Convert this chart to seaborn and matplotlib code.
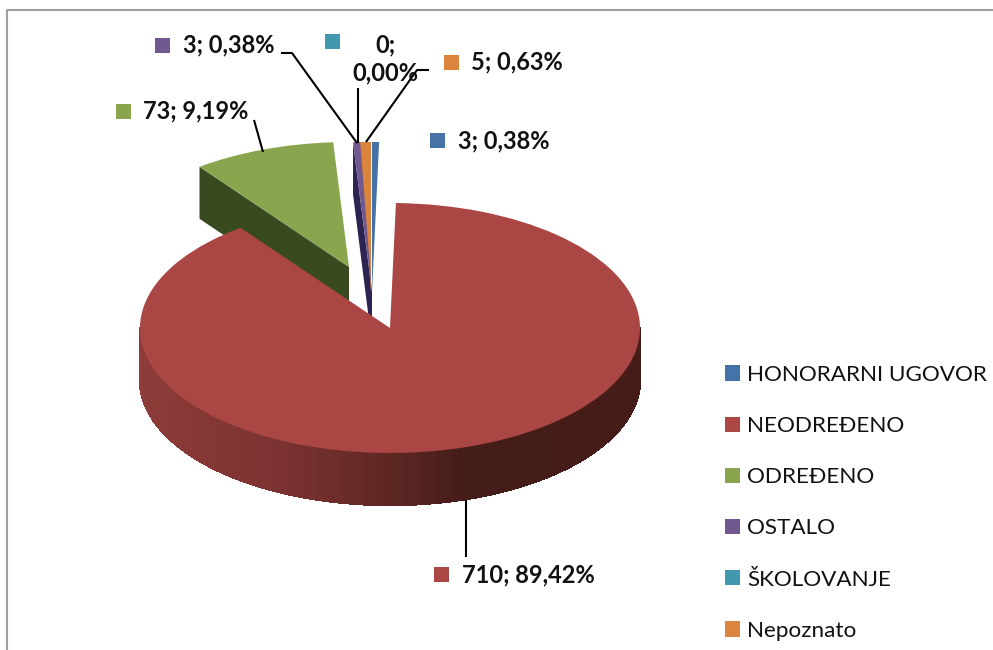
import numpy as np
import matplotlib
matplotlib.use("Agg")
import matplotlib.pyplot as plt
from matplotlib.collections import PolyCollection
from matplotlib.colors import LinearSegmentedColormap
from matplotlib.patches import Polygon
import seaborn as sns

categories = ["HONORARNI UGOVOR", "NEODREĐENO", "ODREĐENO", "OSTALO", "ŠKOLOVANJE", "Nepoznato"]
values = [3, 710, 73, 3, 0, 5]
colors = ["#4572a7", "#aa4643", "#89a54e", "#71588f", "#4198af", "#db843d"]

sns.set_theme(style="white")
plt.rcParams["font.family"] = ["Lato", "DejaVu Sans"]
palette = sns.color_palette(colors)

W, H = 993, 650
CX, CY, RX, RY = 390.0, 328.0, 250.0, 125.0
DEPTH = 52.0 / RY

def to_data(px, py):
    return ((px - CX) / RX, (CY - py) / RY)

fig = plt.figure(figsize=(W / 100, H / 100), dpi=100, facecolor="white")
ax = fig.add_axes([0, 0, 1, 1])
wedges, _ = ax.pie(values, colors=palette, startangle=90, counterclock=False,
                   wedgeprops=dict(linewidth=0))
ax.set_aspect("auto")
ax.set_xlim(-CX / RX, (W - CX) / RX)
ax.set_ylim((CY - H) / RY, CY / RY)
ax.axis("off")

# exploded positions as seen in the picture (px) and radius of each slice
apex_px = [(372, 292), (CX, CY), (349, 267), (372, 292), (371, 292), (371, 292)]
radii = [1.2, 1.0, 1.0, 1.2, 1.2, 1.2]
wall_colors = [None, None, "#3a4a20", "#2d2350", None, None]
for w, a, r in zip(wedges, apex_px, radii):
    w.set_center(to_data(*a))
    w.set_radius(r)
    w.set_zorder(4)
wedges[1].set_zorder(8)
wedges[3].set_zorder(5)

# cut walls of the exploded slices
for w, wc in zip(wedges, wall_colors):
    if wc is None:
        continue
    cx, cy = w.center
    t = np.deg2rad(w.theta2)
    ex, ey = cx + w.r * np.cos(t), cy + w.r * np.sin(t)
    ax.add_patch(Polygon([(cx, cy), (ex, ey), (ex, ey - DEPTH), (cx, cy - DEPTH)],
                         closed=True, facecolor=wc, edgecolor="none", zorder=3))

# rim of the large slice, shaded from left to right
rim_cmap = LinearSegmentedColormap.from_list(
    "rim", [(0.0, "#8e3c39"), (0.3, "#7a3230"), (0.5, "#5e2724"), (0.66, "#441c18"), (1.0, "#451c17")])
th = np.deg2rad(np.linspace(180, 360, 361))
polys, cols = [], []
for a, b in zip(th[:-1], th[1:]):
    x0, y0, x1, y1 = np.cos(a), np.sin(a), np.cos(b), np.sin(b)
    polys.append([(x0, y0), (x1, y1), (x1, y1 - DEPTH), (x0, y0 - DEPTH)])
    cols.append(rim_cmap((np.cos((a + b) / 2) + 1) / 2))
ax.add_collection(PolyCollection(polys, facecolors=cols, edgecolors=cols, linewidths=1.0,
                                 antialiaseds=False, zorder=7))

# overlay in picture coordinates for labels and frame
ov = fig.add_axes([0, 0, 1, 1], facecolor="none")
ov.set_xlim(0, W)
ov.set_ylim(H, 0)
ov.axis("off")

ov.plot([7, 7, W], [H, 10, 10], color="#a0a0a0", lw=1.5, clip_on=False)

total = sum(values)
label_text = [f"{v}; {v / total * 100:.2f}%".replace(".", ",") for v in values]
label_text[4] = label_text[4].replace(" ", "\n")
square_xy = [(436.5, 139.5), (440.5, 573.5), (122.5, 110.5), (161.5, 44.5), (331.5, 40.5), (450.5, 61.5)]
text_xy = [(458, 141), (462, 575), (143, 111), (183, 45), (385.5, 59), (471, 62)]
aligns = ["left", "left", "left", "left", "center", "left"]
leaders = [None,
           [(466, 500), (466, 557)],
           [(254, 120), (263, 152)],
           [(281, 53), (292, 53), (357, 143)],
           [(358, 88), (358, 143)],
           [(429, 70), (417, 70), (366, 142)]]
for i in range(len(values)):
    ov.scatter(*square_xy[i], marker="s", s=(15 * 0.72) ** 2, color=palette[i], linewidths=0, zorder=10)
    ov.text(*text_xy[i], label_text[i], ha=aligns[i], va="center", fontsize=17, fontweight="bold",
            color="#111111", linespacing=1.3, zorder=11)
    if leaders[i]:
        xs, ys = zip(*leaders[i])
        ov.plot(xs, ys, color="black", lw=1.5, zorder=9, solid_capstyle="butt")

FS = 16.2
leg = ov.legend(wedges, categories, loc="upper left", bbox_to_anchor=(725 / W, 1 - 365 / H),
                bbox_transform=fig.transFigure, frameon=False, fontsize=FS,
                handlelength=0.667, handleheight=0.667, handletextpad=0.31, labelspacing=1.385,
                borderpad=0, borderaxespad=0)
for t in leg.get_texts():
    t.set_color("#111111")

fig.savefig("out.png", dpi=100, facecolor="white")
